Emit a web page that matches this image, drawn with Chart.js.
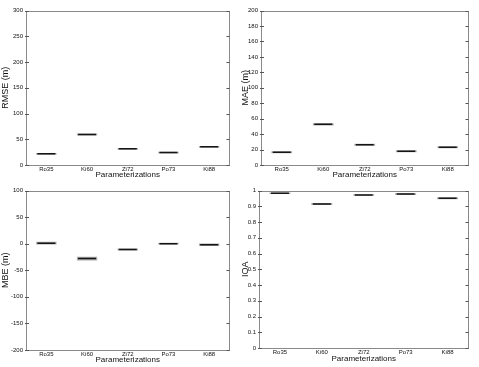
<!DOCTYPE html>
<html>
<head>
<meta charset="utf-8">
<script src="https://cdn.jsdelivr.net/npm/chart.js@4.4.0/dist/chart.umd.min.js"></script>
<style>
  body { margin: 0; background: #fff; width: 479px; height: 367px; position: relative; overflow: hidden; }
  .panel { position: absolute; }
</style>
</head>
<body>
<div class="panel" style="left:0;top:0;width:240px;height:185px"><canvas id="rmseChart"></canvas></div>
<div class="panel" style="left:240px;top:0;width:239px;height:185px"><canvas id="maeChart"></canvas></div>
<div class="panel" style="left:0;top:180px;width:240px;height:187px"><canvas id="mbeChart"></canvas></div>
<div class="panel" style="left:240px;top:180px;width:239px;height:187px"><canvas id="ioaChart"></canvas></div>
<script>
const parameterizations = ['Ro35', 'Ki60', 'Zi72', 'Po73', 'Ki88'];

// RMSE (m)
const rmseMedian = [21.7, 59.4, 31.5, 24.1, 35.2];
const rmseLow = [19.8, 57.5, 29.8, 22.3, 33.4];
const rmseHigh = [23.5, 61.2, 33.2, 25.8, 37.0];

// MAE (m)
const maeMedian = [16.4, 52.6, 26.3, 17.7, 23.0];
const maeLow = [15.1, 51.2, 25.0, 16.4, 21.7];
const maeHigh = [17.7, 53.9, 27.6, 19.0, 24.3];

// MBE (m)
const mbeMedian = [1, -28, -11, 0, -2];
const mbeLow = [-1.5, -31.5, -13, -1.8, -4.3];
const mbeHigh = [3.5, -24.5, -9, 1.8, 0.3];

// IOA
const ioaMedian = [0.983, 0.914, 0.971, 0.977, 0.951];
const ioaLow = [0.978, 0.908, 0.966, 0.972, 0.945];
const ioaHigh = [0.988, 0.920, 0.976, 0.982, 0.957];

const FONT = "'Liberation Sans', Arial, sans-serif";

// grey frame round the plot area plus small inward y tick marks on both sides
const framePlugin = {
    id: 'frame',
    beforeDatasetsDraw(chart) {
        const { ctx, chartArea: a, scales: { y } } = chart;
        ctx.save();
        ctx.strokeStyle = '#8a8a8a';
        ctx.lineWidth = 1;
        ctx.strokeRect(Math.round(a.left) + 0.5, Math.round(a.top) + 0.5,
            Math.round(a.width) - 1, Math.round(a.height) - 1);
        ctx.strokeStyle = '#555';
        y.ticks.forEach(t => {
            const py = Math.round(y.getPixelForValue(t.value)) + 0.5;
            ctx.beginPath();
            ctx.moveTo(a.left - 1, py); ctx.lineTo(a.left + 3, py);
            ctx.moveTo(a.right, py); ctx.lineTo(a.right - 3, py);
            ctx.stroke();
        });
        ctx.restore();
    }
};

function makeChart(id, opts) {
    const boxes = opts.low.map((lo, i) => [lo, opts.high[i]]);
    return new Chart(document.getElementById(id), {
        data: {
            labels: parameterizations,
            datasets: [{
                type: 'bar',
                order: 2,
                data: boxes,
                backgroundColor: '#acacac',
                borderWidth: 0,
                borderSkipped: false,
                barPercentage: 0.5,
                categoryPercentage: 1
            }, {
                type: 'line',
                order: 1,
                data: opts.median,
                showLine: false,
                pointStyle: 'line',
                pointRadius: 9,
                pointHoverRadius: 9,
                borderColor: '#151515',
                borderWidth: 1.5
            }]
        },
        options: {
            responsive: true,
            maintainAspectRatio: false,
            animation: false,
            layout: { padding: opts.padding },
            plugins: { legend: { display: false }, tooltip: { enabled: false } },
            scales: {
                x: {
                    offset: true,
                    grid: { display: false, drawTicks: false },
                    border: { display: false },
                    ticks: { padding: 1, color: '#111', font: { family: FONT, size: 6 } },
                    title: {
                        display: true, text: 'Parameterizations', color: '#111',
                        padding: 0, font: { family: FONT, size: 8 }
                    },
                    afterFit: s => { s.height = opts.xHeight; }
                },
                y: {
                    min: opts.min, max: opts.max,
                    grid: { display: false, drawTicks: false },
                    border: { display: false },
                    ticks: {
                        stepSize: opts.step, padding: 3, color: '#111',
                        font: { family: FONT, size: 6 },
                        callback: v => String(+v.toFixed(2))
                    },
                    title: {
                        display: true, text: opts.title, color: '#111',
                        padding: 0, font: { family: FONT, size: 9 }
                    },
                    afterFit: s => { s.width = opts.yWidth; }
                }
            }
        },
        plugins: [framePlugin]
    });
}

makeChart('rmseChart', {
    median: rmseMedian, low: rmseLow, high: rmseHigh,
    min: 0, max: 300, step: 50, title: 'RMSE (m)',
    yWidth: 26, xHeight: 15, padding: { top: 3, right: 3, bottom: 5, left: 0 }
});
makeChart('maeChart', {
    median: maeMedian, low: maeLow, high: maeHigh,
    min: 0, max: 200, step: 20, title: 'MAE (m)',
    yWidth: 21, xHeight: 15, padding: { top: 3, right: 2, bottom: 5, left: 0 }
});
makeChart('mbeChart', {
    median: mbeMedian, low: mbeLow, high: mbeHigh,
    min: -200, max: 100, step: 50, title: 'MBE (m)',
    yWidth: 26, xHeight: 15, padding: { top: 9, right: 3, bottom: 2, left: 0 }
});
makeChart('ioaChart', {
    median: ioaMedian, low: ioaLow, high: ioaHigh,
    min: 0, max: 1, step: 0.1, title: 'IOA',
    yWidth: 19, xHeight: 16, padding: { top: 5, right: 6, bottom: 3, left: 0 }
});
</script>
</body>
</html>
